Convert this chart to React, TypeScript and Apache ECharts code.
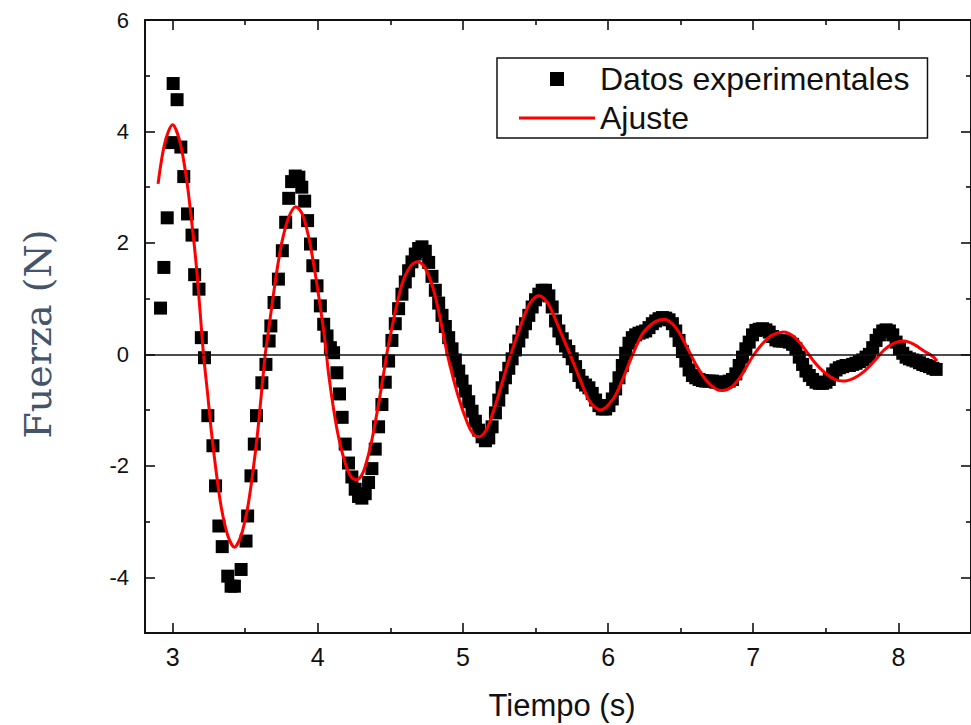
import React, { useEffect, useRef } from "react";
import * as echarts from "echarts";

// Tick values
const xMajorTicks = [3, 4, 5, 6, 7, 8];
const xMinorTicks = [3.5, 4.5, 5.5, 6.5, 7.5];
const yMajorTicks = [-4, -2, 0, 2, 4, 6];
const yMinorTicks = [-5, -3, -1, 1, 3, 5];

const serieDatosNombre = "Datos experimentales";
const serieAjusteNombre = "Ajuste";

// Experimental data: [tiempo (s), fuerza (N)]
const datosExperimentales: [number, number][] = [
  [2.917, 0.83], [2.94, 1.56], [2.963, 2.45], [2.993, 3.8], [3.004, 4.86], [3.031, 4.57], [3.057, 3.72],
  [3.077, 3.19], [3.103, 2.52], [3.134, 2.14], [3.152, 1.43], [3.182, 1.17], [3.198, 0.3], [3.22, -0.06],
  [3.243, -1.1], [3.278, -1.64], [3.296, -2.36], [3.319, -3.08], [3.342, -3.45], [3.38, -3.98], [3.403, -4.16],
  [3.426, -4.16], [3.472, -3.86], [3.506, -3.35], [3.517, -2.9], [3.54, -2.18], [3.563, -1.61], [3.578, -1.1],
  [3.615, -0.51], [3.643, -0.18], [3.665, 0.24], [3.677, 0.51], [3.699, 0.93], [3.729, 1.35], [3.756, 1.86],
  [3.779, 2.37], [3.8, 2.8], [3.82, 3.1], [3.845, 3.2], [3.87, 3.18], [3.89, 3.0], [3.91, 2.75], [3.93, 2.4],
  [3.95, 1.98], [3.966, 1.59], [3.995, 1.23], [4.018, 0.87], [4.041, 0.54], [4.064, 0.33], [4.087, 0.12],
  [4.109, 0.03], [4.132, -0.33], [4.15, -0.71], [4.168, -1.13], [4.189, -1.61], [4.212, -1.95], [4.235, -2.2],
  [4.258, -2.42], [4.281, -2.55], [4.304, -2.58], [4.327, -2.5], [4.35, -2.3], [4.373, -2.05], [4.396, -1.7],
  [4.419, -1.3], [4.442, -0.9], [4.465, -0.5], [4.488, -0.12], [4.511, 0.25], [4.534, 0.55], [4.557, 0.82],
  [4.58, 1.08], [4.603, 1.3], [4.626, 1.5], [4.649, 1.66], [4.672, 1.8], [4.695, 1.9], [4.718, 1.93], [4.741, 1.85],
  [4.764, 1.65], [4.787, 1.4], [4.81, 1.15], [4.833, 0.92], [4.856, 0.7], [4.879, 0.5], [4.902, 0.3], [4.925, 0.1],
  [4.948, -0.1], [4.971, -0.3], [4.994, -0.48], [5.017, -0.66], [5.04, -0.85], [5.063, -1.02], [5.086, -1.2],
  [5.109, -1.36], [5.132, -1.48], [5.155, -1.55], [5.178, -1.5],
  [5.201, -1.3], [5.224, -1.05], [5.247, -0.82], [5.27, -0.6], [5.293, -0.42], [5.316, -0.25], [5.339, -0.08],
  [5.362, 0.08], [5.385, 0.24], [5.408, 0.4], [5.431, 0.55], [5.454, 0.7], [5.477, 0.85], [5.5, 0.98],
  [5.523, 1.08], [5.546, 1.15], [5.569, 1.15], [5.592, 1.05],
  [5.615, 0.85], [5.638, 0.6], [5.661, 0.42], [5.684, 0.28], [5.707, 0.15], [5.73, 0.05], [5.753, -0.08],
  [5.776, -0.22], [5.799, -0.38], [5.822, -0.5], [5.845, -0.55], [5.868, -0.6], [5.891, -0.7], [5.914, -0.82],
  [5.937, -0.92], [5.96, -0.98], [5.983, -0.98], [6.006, -0.92],
  [6.029, -0.8], [6.052, -0.62], [6.075, -0.42], [6.098, -0.2], [6.121, 0.02], [6.144, 0.2], [6.167, 0.3],
  [6.19, 0.35], [6.213, 0.38], [6.236, 0.4], [6.259, 0.42], [6.282, 0.48], [6.305, 0.55], [6.328, 0.6],
  [6.351, 0.64], [6.374, 0.66], [6.397, 0.65], [6.42, 0.62], [6.443, 0.55],
  [6.466, 0.42], [6.489, 0.25], [6.512, 0.05], [6.535, -0.12], [6.558, -0.28], [6.581, -0.38], [6.604, -0.42],
  [6.627, -0.45], [6.65, -0.47], [6.673, -0.48], [6.696, -0.48], [6.719, -0.48], [6.742, -0.5], [6.765, -0.5],
  [6.788, -0.5], [6.811, -0.5], [6.834, -0.48], [6.857, -0.45], [6.88, -0.35],
  [6.903, -0.2], [6.926, -0.05], [6.949, 0.1], [6.972, 0.22], [6.995, 0.35], [7.018, 0.43], [7.041, 0.45],
  [7.064, 0.46], [7.087, 0.44], [7.11, 0.4], [7.133, 0.32], [7.156, 0.26], [7.179, 0.24], [7.202, 0.24],
  [7.225, 0.24], [7.248, 0.22], [7.271, 0.18], [7.294, 0.1],
  [7.317, -0.05], [7.34, -0.18], [7.363, -0.3], [7.386, -0.38], [7.409, -0.45], [7.432, -0.5], [7.455, -0.52],
  [7.478, -0.52], [7.501, -0.5], [7.524, -0.45], [7.547, -0.35], [7.57, -0.28],
  [7.593, -0.24], [7.616, -0.22], [7.639, -0.2], [7.662, -0.2], [7.685, -0.18], [7.708, -0.16], [7.731, -0.13],
  [7.754, -0.1], [7.777, -0.05], [7.8, 0.0], [7.823, 0.12], [7.846, 0.25], [7.869, 0.35], [7.892, 0.42],
  [7.915, 0.44], [7.938, 0.42], [7.961, 0.35], [7.984, 0.22], [8.007, 0.1], [8.03, 0.02], [8.053, -0.05],
  [8.076, -0.08], [8.099, -0.1], [8.122, -0.12], [8.145, -0.15], [8.168, -0.18], [8.191, -0.2], [8.214, -0.22],
  [8.237, -0.25], [8.26, -0.27],
];

// Fitted curve: [tiempo (s), fuerza (N)]
const curvaAjuste: [number, number][] = [
  [2.9, 3.06], [2.947, 3.8], [3.0, 4.12], [3.05, 3.82], [3.096, 3.15], [3.13, 2.42], [3.164, 1.58],
  [3.187, 0.85], [3.213, 0.0], [3.243, -0.75], [3.267, -1.38], [3.3, -2.1], [3.335, -2.74], [3.38, -3.25],
  [3.426, -3.46], [3.472, -3.25], [3.517, -2.75], [3.551, -2.15], [3.585, -1.42], [3.615, -0.62], [3.638, 0.0],
  [3.653, 0.28], [3.688, 0.95], [3.722, 1.56], [3.756, 2.05], [3.8, 2.46], [3.848, 2.65], [3.893, 2.52],
  [3.938, 2.1], [3.973, 1.6], [4.007, 1.04], [4.041, 0.42], [4.06, 0.0], [4.075, -0.36], [4.109, -0.98],
  [4.143, -1.48], [4.189, -1.95], [4.23, -2.2], [4.267, -2.25], [4.3, -2.18], [4.326, -2.02], [4.371, -1.56],
  [4.417, -0.92], [4.463, -0.2], [4.475, 0.0], [4.497, 0.3], [4.542, 0.86], [4.588, 1.32], [4.645, 1.6],
  [4.69, 1.66], [4.736, 1.57], [4.793, 1.2], [4.839, 0.7], [4.893, 0.0], [4.964, -0.72], [5.032, -1.24],
  [5.075, -1.44], [5.112, -1.48], [5.15, -1.4], [5.18, -1.25], [5.237, -0.8], [5.305, -0.2], [5.33, 0.0],
  [5.374, 0.34], [5.442, 0.82], [5.48, 0.98], [5.522, 1.05], [5.56, 1.0], [5.602, 0.84], [5.67, 0.42],
  [5.738, 0.0], [5.807, -0.45], [5.875, -0.85], [5.948, -1.0], [6.035, -0.8], [6.1, -0.45], [6.17, 0.0],
  [6.24, 0.38], [6.32, 0.58], [6.387, 0.63], [6.466, 0.48], [6.537, 0.16], [6.605, -0.18], [6.674, -0.46],
  [6.742, -0.62], [6.787, -0.65], [6.855, -0.58], [6.923, -0.36], [6.99, -0.06], [7.06, 0.18], [7.128, 0.34],
  [7.208, 0.4], [7.288, 0.3], [7.356, 0.09], [7.425, -0.15], [7.493, -0.33], [7.561, -0.45], [7.618, -0.48],
  [7.698, -0.42], [7.766, -0.3], [7.834, -0.12], [7.902, 0.08], [7.97, 0.2], [8.039, 0.24], [8.107, 0.18],
  [8.176, 0.06], [8.233, -0.03], [8.267, -0.12],
];

const SANS = "'Liberation Sans', Arial, Helvetica, sans-serif";
const X_MIN = 2.81;
const X_MAX = 8.5;
const Y_MIN = -5;
const Y_MAX = 6;

const gridBox = { left: 145, top: 20, right: -6, bottom: 92, containLabel: false };
const axisLine = { show: true, onZero: false, lineStyle: { color: "#111", width: 2 } };
const tickLine = { color: "#111", width: 1.6 };

function xAxisDef(grid: number, pos: "bottom" | "top", ticks: number[], len: number, labels: boolean, line: boolean) {
  return {
    type: "value",
    gridIndex: grid,
    position: pos,
    min: X_MIN,
    max: X_MAX,
    axisLine: line ? axisLine : { show: false, onZero: false },
    axisTick: { show: true, inside: true, length: len, customValues: ticks, lineStyle: tickLine },
    axisLabel: labels
      ? { show: true, customValues: ticks, margin: 11, fontSize: 25, fontFamily: SANS, color: "#111" }
      : { show: false },
    splitLine: { show: false },
    minorTick: { show: false },
  };
}

function yAxisDef(grid: number, pos: "left" | "right", ticks: number[], len: number, labels: boolean, line: boolean) {
  return {
    type: "value",
    gridIndex: grid,
    position: pos,
    min: Y_MIN,
    max: Y_MAX,
    axisLine: line ? axisLine : { show: false, onZero: false },
    axisTick: { show: true, inside: true, length: len, customValues: ticks, lineStyle: tickLine },
    axisLabel: labels
      ? { show: true, customValues: ticks, margin: 16, fontSize: 22, fontFamily: SANS, color: "#111" }
      : { show: false },
    splitLine: { show: false },
    minorTick: { show: false },
  };
}

export default function App() {
  const ref = useRef<HTMLDivElement>(null);

  useEffect(() => {
    if (!ref.current) return;
    const chart = echarts.init(ref.current, undefined, { renderer: "svg" });
    const option: any = {
      animation: false,
      backgroundColor: "#ffffff",
      grid: [gridBox, { ...gridBox }],
      xAxis: [
        xAxisDef(0, "bottom", xMajorTicks, 10, true, true),
        xAxisDef(0, "top", xMajorTicks, 10, false, true),
        xAxisDef(1, "bottom", xMinorTicks, 5, false, false),
        xAxisDef(1, "top", xMinorTicks, 5, false, false),
      ],
      yAxis: [
        yAxisDef(0, "left", yMajorTicks, 10, true, true),
        yAxisDef(0, "right", yMajorTicks, 10, false, true),
        yAxisDef(1, "left", yMinorTicks, 5, false, false),
        yAxisDef(1, "right", yMinorTicks, 5, false, false),
      ],
      legend: {
        orient: "vertical",
        left: 497,
        top: 58,
        padding: [5, 18, 4, 22],
        itemWidth: 76,
        itemHeight: 14,
        itemGap: 7,
        borderColor: "#111",
        borderWidth: 1.5,
        backgroundColor: "#ffffff",
        selectedMode: false,
        textStyle: { fontSize: 32, fontFamily: SANS, color: "#111" },
        data: [
          { name: serieDatosNombre, icon: "path://M0,0h14v14h-14z", itemStyle: { color: "#000", opacity: 1 } },
          { name: serieAjusteNombre, icon: "path://M0,0h76v3h-76z" },
        ],
      },
      graphic: [
        {
          type: "text",
          x: 562,
          y: 705,
          style: {
            text: "Tiempo (s)",
            font: `31px ${SANS}`,
            fill: "#111",
            align: "center",
            verticalAlign: "middle",
            textAlign: "center",
            textVerticalAlign: "middle",
          },
        },
        {
          type: "text",
          x: 38,
          y: 334,
          rotation: Math.PI / 2,
          style: {
            text: "Fuerza (N)",
            font: "38px 'DejaVu Serif', 'Liberation Serif', serif",
            fill: "#44546A",
            align: "center",
            verticalAlign: "middle",
            textAlign: "center",
            textVerticalAlign: "middle",
          },
        },
      ],
      series: [
        {
          name: serieDatosNombre,
          type: "scatter",
          xAxisIndex: 0,
          yAxisIndex: 0,
          symbol: "rect",
          symbolSize: 13,
          itemStyle: { color: "#000000", opacity: 1 },
          data: datosExperimentales,
          markLine: {
            silent: true,
            symbol: ["none", "none"],
            label: { show: false },
            lineStyle: { color: "#111", width: 1.5, type: "solid" },
            data: [{ yAxis: 0 }],
          },
          z: 2,
        },
        {
          name: serieAjusteNombre,
          type: "line",
          xAxisIndex: 0,
          yAxisIndex: 0,
          data: curvaAjuste,
          symbol: "none",
          showSymbol: false,
          smooth: 0.3,
          lineStyle: { color: "#ff0000", width: 3 },
          itemStyle: { color: "#ff0000" },
          z: 3,
        },
      ],
    };
    chart.setOption(option);
    return () => chart.dispose();
  }, []);

  return (
    <div
      ref={ref}
      style={{ position: "fixed", left: 0, top: 0, width: 971, height: 725, background: "#ffffff" }}
    />
  );
}
